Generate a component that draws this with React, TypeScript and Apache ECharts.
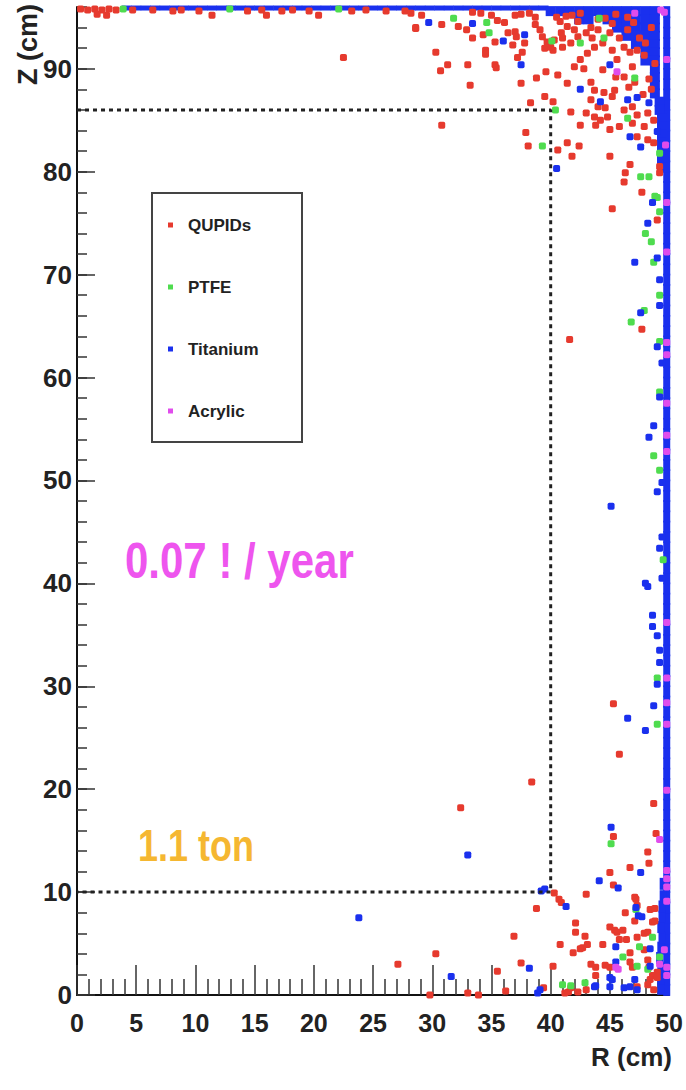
import React, { useEffect, useRef } from "react";
import * as echarts from "echarts";

const FONT = '"Liberation Sans", Arial, Helvetica, sans-serif';

const legendNames = ["QUPIDs", "PTFE", "Titanium", "Acrylic"];

// dashed fiducial box (R, Z)
const boxR = [0, 40, 40, 0];
const boxZ = [86, 86, 10, 10];

// Titanium: dense wall at the outer radius
const titaniumWall: [number, number][] = [
  [49.8, 0.5], [49.8, 1.5], [49.8, 2.5], [49.8, 3.5], [49.8, 4.5], [49.8, 5.5], [49.8, 6.5], [49.8, 7.5],
  [49.8, 8.5], [49.8, 9.5], [49.8, 10.5], [49.8, 11.5], [49.8, 12.5], [49.8, 13.5], [49.8, 14.5], [49.8, 15.5],
  [49.8, 16.5], [49.8, 17.5], [49.8, 18.5], [49.8, 19.5], [49.8, 20.5], [49.8, 21.5], [49.8, 22.5], [49.8, 23.5],
  [49.8, 24.5], [49.8, 25.5], [49.8, 26.5], [49.8, 27.5], [49.8, 28.5], [49.8, 29.5], [49.8, 30.5], [49.8, 31.5],
  [49.8, 32.5], [49.8, 33.5], [49.8, 34.5], [49.8, 35.5], [49.8, 36.5], [49.8, 37.5], [49.8, 38.5], [49.8, 39.5],
  [49.8, 40.5], [49.8, 41.5], [49.8, 42.5], [49.8, 43.5], [49.8, 44.5], [49.8, 45.5], [49.8, 46.5], [49.8, 47.5],
  [49.8, 48.5], [49.8, 49.5], [49.8, 50.5], [49.8, 51.5], [49.8, 52.5], [49.8, 53.5], [49.8, 54.5], [49.8, 55.5],
  [49.8, 56.5], [49.8, 57.5], [49.8, 58.5], [49.8, 59.5], [49.8, 60.5], [49.8, 61.5], [49.8, 62.5], [49.8, 63.5],
  [49.8, 64.5], [49.8, 65.5], [49.8, 66.5], [49.8, 67.5], [49.8, 68.5], [49.8, 69.5], [49.8, 70.5], [49.8, 71.5],
  [49.8, 72.5], [49.8, 73.5], [49.8, 74.5], [49.8, 75.5], [49.8, 76.5], [49.8, 77.5], [49.8, 78.5], [49.8, 79.5],
  [49.8, 80.5], [49.8, 81.5], [49.8, 82.5], [49.8, 83.5], [49.8, 84.5], [49.8, 85.5], [49.8, 86.5], [49.8, 87.5],
  [49.8, 88.5], [49.8, 89.5], [49.8, 90.5], [49.8, 91.5], [49.8, 92.5], [49.8, 93.5], [49.8, 94.5], [49.8, 95.5],
  [49.3, 0.6], [49.3, 1.6], [49.3, 2.6], [49.2, 3.6], [49.3, 4.6], [49.4, 5.6], [49.3, 6.6], [49.4, 7.6],
  [49.4, 8.6], [49.5, 9.6], [49.5, 10.8],
];

// Titanium: dense band along the top (R positions, at Z = 95.9)
const titaniumTopR = [
  4.2, 5.0, 5.8, 6.6, 7.4, 8.2, 9.0, 9.8, 10.6, 11.4, 12.2, 13.0, 13.8, 14.6, 15.4, 16.2, 17.0, 17.8,
  18.6, 19.4, 20.2, 21.0, 21.8, 22.6, 23.4, 24.2, 25.0, 25.8, 26.6, 27.4, 28.2, 29.0, 29.8, 30.6, 31.4,
  32.2, 33.0, 33.8, 34.6, 35.4, 36.2, 37.0, 37.8, 38.6, 39.4,
];
const titaniumTopZ = 95.9;

// Titanium: dense cluster in the upper outer corner
const titaniumCorner: [number, number][] = [
  [40.0, 95.6], [40.8, 95.6], [41.6, 95.6], [42.4, 95.6], [43.2, 95.6], [44.0, 95.6], [44.8, 95.6], [45.6, 95.6],
  [46.4, 95.6], [47.2, 95.6], [48.0, 95.6], [48.8, 95.6],
  [42.4, 94.8], [43.2, 94.8], [44.8, 94.8], [45.6, 94.8], [46.4, 94.8], [47.2, 94.8], [48.0, 94.8], [48.8, 94.8],
  [45.6, 94.0], [46.4, 94.0], [47.2, 94.0], [48.0, 94.0], [48.8, 94.0],
  [46.4, 93.2], [47.2, 93.2], [48.0, 93.2], [48.8, 93.2],
  [47.2, 92.4], [48.0, 92.4], [48.8, 92.4],
  [48.0, 91.6], [48.8, 91.6], [48.0, 90.8], [48.8, 90.8],
  [48.8, 90.0], [48.8, 89.2], [48.8, 88.4], [48.8, 87.6], [49.2, 86.8], [49.2, 86.0],
  [49.4, 85.2], [49.4, 84.4], [49.4, 83.6], [49.4, 82.8], [49.4, 82.0], [49.4, 81.2], [49.4, 80.4],
];

const qupids: [number, number][] = [
  [0.3, 95.8], [0.9, 95.7], [1.5, 95.8], [2.1, 95.7], [2.7, 95.8], [3.3, 95.7], [1.7, 95.3], [2.5, 95.2],
  [4.7, 95.7], [6.4, 95.7], [8.1, 95.6], [8.8, 95.7], [10.3, 95.6], [11.4, 95.2], [14.4, 95.6], [15.6, 95.7],
  [16.0, 95.2], [17.3, 95.6], [18.2, 95.7], [19.6, 95.6], [20.4, 95.2], [23.2, 95.6], [24.4, 95.7], [26.1, 95.6],
  [27.7, 95.6], [28.6, 94.0], [22.5, 91.1],
  [28.2, 95.4], [29.1, 95.2], [28.6, 93.9], [30.8, 94.3], [32.2, 94.1], [32.9, 93.8], [33.4, 95.5], [34.1, 95.4],
  [35.0, 95.2], [35.5, 94.7], [36.1, 94.5], [34.3, 93.3], [33.4, 93.0], [35.3, 92.6], [36.4, 93.5], [37.0, 93.6],
  [37.1, 93.1], [36.8, 92.3], [37.8, 92.5], [37.6, 91.6], [37.2, 91.1], [34.5, 91.8], [34.5, 91.4], [35.3, 90.4],
  [35.4, 90.1], [33.0, 90.4], [31.3, 90.4], [30.7, 89.8], [30.3, 91.6], [33.2, 88.4], [37.5, 88.6], [38.8, 89.1],
  [39.6, 89.7], [39.5, 87.3], [40.2, 86.8], [38.3, 86.7], [30.8, 84.5], [37.9, 83.8], [38.1, 82.5], [38.7, 94.3],
  [39.1, 93.8], [39.3, 93.1], [39.7, 92.6], [39.5, 92.0], [40.2, 91.8], [38.7, 95.0], [37.0, 95.2], [37.5, 95.3],
  [38.2, 95.4],
  [40.8, 94.6], [41.3, 95.1], [41.8, 95.2], [42.5, 95.4], [42.3, 94.6], [41.4, 94.1], [40.9, 93.5], [40.3, 92.8],
  [40.0, 92.1], [41.0, 92.1], [41.7, 92.5], [42.3, 93.1], [43.0, 93.5], [43.4, 94.0], [44.0, 94.8], [44.6, 94.9],
  [45.2, 94.4], [45.0, 93.5], [44.4, 92.5], [43.7, 92.1], [43.1, 91.5], [42.5, 90.9], [42.0, 90.2], [42.8, 90.0],
  [40.6, 89.4], [41.4, 88.6], [43.4, 88.7], [44.4, 89.9], [45.6, 90.9], [45.2, 91.8], [46.2, 92.1], [46.7, 91.6],
  [47.3, 91.8], [47.9, 91.3], [46.9, 90.2], [46.2, 89.2], [46.6, 88.2], [47.1, 88.7], [43.7, 87.9], [44.5, 87.7],
  [45.2, 87.3], [45.4, 87.9], [43.4, 87.0], [44.0, 86.3], [44.6, 86.2], [41.7, 85.8], [43.0, 85.7], [43.7, 85.3],
  [44.2, 85.0], [44.8, 85.3], [46.2, 86.0], [46.9, 86.3], [47.3, 85.5], [48.2, 85.7], [48.7, 85.0], [43.8, 84.5],
  [42.5, 84.5], [45.0, 84.1], [45.8, 84.4], [46.9, 84.7], [47.9, 84.4], [47.3, 83.4], [48.2, 83.1], [48.7, 82.8],
  [41.4, 82.8], [42.4, 82.5], [40.6, 82.1], [41.8, 81.5], [45.0, 81.5], [46.7, 80.7], [46.3, 79.9], [46.2, 79.0],
  [47.7, 78.0], [49.2, 80.5], [49.2, 79.9],
  [40.5, 95.0], [41.0, 93.0], [42.0, 93.8], [43.5, 93.0], [44.0, 93.8], [45.8, 93.0], [46.5, 93.8], [47.5, 93.0],
  [48.0, 92.5], [47.0, 94.5], [45.5, 95.3], [46.5, 95.0], [48.5, 94.0], [48.8, 90.5], [48.3, 89.0], [47.8, 87.5],
  [48.5, 88.0], [45.5, 89.2],
  [45.2, 76.4], [49.0, 75.3], [47.7, 64.7], [41.6, 63.7],
  [45.3, 28.3], [45.8, 23.4], [38.4, 20.7], [48.7, 18.6], [32.4, 18.2], [45.3, 15.4], [48.9, 15.7], [48.2, 13.9],
  [48.3, 12.8], [46.7, 12.4], [45.0, 11.9], [45.3, 10.7], [43.0, 9.8], [40.3, 9.9], [40.7, 9.3], [40.9, 9.0],
  [38.8, 8.4], [47.1, 9.5], [47.2, 9.3], [47.3, 8.7], [48.4, 8.3], [48.8, 8.4], [48.6, 7.1], [48.8, 7.2],
  [46.3, 8.0], [47.1, 7.2], [42.1, 7.0], [42.1, 6.1], [42.9, 5.7], [43.1, 4.9], [42.7, 4.6], [40.8, 4.9],
  [36.9, 5.7], [44.4, 4.9], [45.0, 6.6], [45.4, 6.3], [45.6, 6.1], [46.1, 6.3], [45.8, 5.4], [46.4, 5.4],
  [47.3, 5.6], [47.9, 6.0], [48.2, 6.1], [46.7, 4.1], [47.9, 4.4], [41.9, 4.1], [42.5, 4.5], [37.5, 3.1],
  [40.2, 2.8], [43.4, 3.0], [43.8, 2.7], [43.8, 1.9], [45.0, 2.7], [46.7, 3.2], [48.2, 3.4], [46.9, 2.7],
  [49.0, 2.2], [48.6, 1.9], [49.0, 1.7], [48.4, 1.5], [41.2, 0.2], [41.5, 0.3], [41.7, 0.7], [39.4, 0.7],
  [43.0, 0.5], [42.3, 0.3], [47.3, 0.8], [48.2, 1.0], [48.7, 0.5], [30.3, 4.0], [35.5, 2.3], [27.1, 3.0],
  [33.0, 0.2], [33.9, 0.0], [29.8, 0.0], [36.2, 0.4], [44.6, 2.9], [48.3, 2.7],
];

const ptfe: [number, number][] = [
  [3.9, 95.8], [12.9, 95.8], [22.1, 95.8], [31.8, 94.9], [34.6, 94.5], [34.8, 93.5], [40.1, 92.7], [40.4, 86.0],
  [39.3, 82.5], [44.1, 94.9], [44.5, 93.0], [42.5, 92.5], [47.1, 89.1], [46.5, 85.2], [49.2, 81.8], [47.6, 79.5],
  [48.3, 79.5], [49.0, 77.5], [48.8, 77.6], [49.2, 76.1], [48.0, 74.0], [48.5, 73.2], [48.7, 71.2], [49.2, 68.0],
  [47.9, 66.5], [46.8, 65.4], [49.2, 63.5], [49.2, 58.6], [48.7, 52.4], [49.2, 51.0], [49.5, 42.3], [49.0, 30.8],
  [49.0, 26.3], [45.1, 14.7], [47.2, 8.3], [48.6, 5.6], [47.5, 4.7], [46.1, 3.7], [49.2, 3.7], [47.3, 2.8],
  [48.2, 2.5], [42.9, 1.2], [41.0, 1.0], [41.7, 0.9],
];

const titanium: [number, number][] = [
  [29.7, 94.5], [33.4, 94.4], [36.0, 92.7], [37.8, 93.3], [37.5, 90.4], [40.5, 80.3], [42.5, 88.0], [44.2, 86.8],
  [45.0, 90.4], [46.5, 87.0], [47.3, 87.2], [48.3, 86.7], [46.7, 83.4], [47.6, 82.4], [49.0, 83.9], [48.6, 77.0],
  [48.2, 75.0], [47.1, 71.2], [49.0, 71.6], [49.2, 69.5], [49.2, 67.0], [47.6, 66.3], [49.0, 63.0], [49.4, 61.4],
  [49.2, 58.1], [48.7, 55.3], [48.3, 54.2], [49.4, 49.8], [49.0, 48.9], [45.1, 47.5], [49.4, 44.5], [49.2, 43.4],
  [49.4, 40.5], [48.0, 40.0], [48.2, 39.7], [48.6, 36.9], [48.6, 35.8], [49.0, 34.9], [49.2, 33.5], [49.2, 32.3],
  [49.0, 30.2], [48.7, 28.1], [46.5, 26.9], [48.0, 25.7], [45.1, 16.3], [47.6, 11.9], [44.1, 11.1], [45.7, 10.4],
  [39.2, 10.1], [39.5, 10.3], [41.3, 8.6], [47.2, 8.5], [47.7, 7.6], [47.4, 7.7], [45.5, 4.7], [48.4, 4.5],
  [45.5, 3.2], [48.4, 2.8], [38.2, 2.6], [45.0, 1.7], [45.2, 1.5], [47.1, 1.5], [43.7, 0.8], [45.0, 0.8],
  [43.8, 0.9], [38.9, 0.2], [39.1, 0.5], [46.2, 0.7], [46.7, 0.8], [47.3, 0.5], [31.6, 1.8], [33.0, 13.6],
  [23.8, 7.5],
];

const acrylic: [number, number][] = [
  [47.1, 95.4], [49.6, 95.5], [49.3, 95.7], [49.8, 90.9], [45.6, 89.7], [49.7, 82.6], [49.8, 77.0], [49.8, 72.2],
  [49.8, 63.4], [49.8, 62.2], [49.8, 57.5], [49.8, 54.4], [49.8, 52.8], [49.8, 36.2], [49.8, 30.8], [49.8, 28.4],
  [49.8, 26.3], [49.8, 19.9], [49.2, 15.1], [49.8, 12.1], [49.8, 11.3], [49.8, 10.5], [49.8, 9.1], [49.6, 4.4],
  [49.2, 3.0], [49.8, 2.7], [49.8, 1.9], [45.5, 2.7], [45.7, 2.5],
];

const RED = "#e63a2e";
const GREEN = "#4fdc4f";
const BLUE = "#1a30ee";
const MAGENTA = "#e04cec";

export default function App() {
  const ref = useRef<HTMLDivElement>(null);

  useEffect(() => {
    if (!ref.current) return;
    const chart = echarts.init(ref.current, null, { renderer: "svg" });

    const dotSeries = (name: string, data: [number, number][], color: string) => ({
      type: "scatter",
      name,
      data,
      symbol: "roundRect",
      symbolSize: 7,
      itemStyle: { color, opacity: 1 },
      silent: true,
    });

    const blockSeries = (data: [number, number][], size: number | number[]) => ({
      type: "scatter",
      name: "Titanium",
      data,
      symbol: "rect",
      symbolSize: size,
      itemStyle: { color: BLUE, opacity: 1 },
      silent: true,
    });

    const option: any = {
      animation: false,
      backgroundColor: "#ffffff",
      grid: { left: 77, top: 7, right: 14, bottom: 95 },
      legend: {
        data: legendNames,
        orient: "vertical",
        left: 168,
        top: 215,
        itemWidth: 5,
        itemHeight: 5,
        itemGap: 42,
        icon: "rect",
        padding: 0,
        selectedMode: false,
        textStyle: {
          fontSize: 17,
          fontWeight: "bold",
          fontFamily: FONT,
          color: "#222",
          lineHeight: 20,
          padding: [0, 0, 0, 10],
        },
      },
      xAxis: {
        type: "value",
        min: 0,
        max: 50,
        interval: 5,
        axisLine: { show: true, onZero: false, lineStyle: { color: "#111", width: 2 } },
        axisTick: { show: true, inside: true, length: 30, lineStyle: { color: "#333", width: 1.5 } },
        minorTick: { show: true, splitNumber: 5, length: 16, lineStyle: { color: "#333", width: 1.5 } },
        splitLine: { show: false },
        axisLabel: { fontSize: 25, fontWeight: "bold", fontFamily: FONT, color: "#222", margin: 15 },
      },
      yAxis: [
        {
          type: "value",
          position: "left",
          min: 0,
          max: 96,
          interval: 2,
          axisLine: { show: true, onZero: false, lineStyle: { color: "#111", width: 2 } },
          axisTick: { show: true, inside: true, length: 10, lineStyle: { color: "#333", width: 1.5 } },
          axisLabel: { show: false },
          splitLine: { show: false },
        },
        {
          type: "value",
          position: "left",
          offset: 0,
          min: 0,
          max: 96,
          interval: 10,
          axisLine: { show: false },
          axisTick: { show: true, inside: true, length: 18, lineStyle: { color: "#333", width: 1.5 } },
          axisLabel: {
            fontSize: 26,
            fontWeight: "bold",
            fontFamily: FONT,
            color: "#222",
            margin: 5,
            showMaxLabel: false,
            formatter: (v: number) => (v % 10 === 0 ? String(v) : ""),
          },
          splitLine: { show: false },
        },
      ],
      series: [
        blockSeries(titaniumWall, [7, 12]),
        blockSeries(titaniumTopR.map((r) => [r, titaniumTopZ]) as [number, number][], [10, 5]),
        blockSeries(titaniumCorner, 10),
        dotSeries("QUPIDs", qupids, RED),
        dotSeries("PTFE", ptfe, GREEN),
        dotSeries("Titanium", titanium, BLUE),
        dotSeries("Acrylic", acrylic, MAGENTA),
        {
          type: "line",
          name: "box",
          data: boxR.map((r, i) => [r, boxZ[i]]),
          showSymbol: false,
          symbol: "none",
          silent: true,
          lineStyle: { color: "#222", width: 3, type: [4, 4] },
          z: 3,
        },
      ],
      graphic: [
        {
          type: "rect",
          shape: { x: 152, y: 193, width: 150, height: 249 },
          style: { fill: "none", stroke: "#444", lineWidth: 2 },
          silent: true,
        },
        {
          type: "text",
          x: 125,
          y: 561,
          scaleY: 1.2,
          style: {
            text: "0.07 ! / year",
            fill: "#ee55ee",
            font: `bold 42px ${FONT}`,
            align: "left",
            verticalAlign: "middle",
          },
          silent: true,
        },
        {
          type: "text",
          x: 138,
          y: 846,
          scaleY: 1.25,
          style: {
            text: "1.1 ton",
            fill: "#f5b731",
            font: `bold 36px ${FONT}`,
            align: "left",
            verticalAlign: "middle",
          },
          silent: true,
        },
        {
          type: "text",
          x: 28,
          y: 4,
          rotation: Math.PI / 2,
          style: {
            text: "Z (cm)",
            fill: "#222",
            font: `bold 27px ${FONT}`,
            align: "right",
            verticalAlign: "middle",
          },
          silent: true,
        },
        {
          type: "text",
          x: 672,
          y: 1057,
          style: {
            text: "R (cm)",
            fill: "#222",
            font: `bold 26px ${FONT}`,
            align: "right",
            verticalAlign: "middle",
          },
          silent: true,
        },
      ],
    };

    chart.setOption(option);
    return () => chart.dispose();
  }, []);

  return (
    <div
      ref={ref}
      style={{ position: "fixed", left: 0, top: 0, width: 686, height: 1090, background: "#fff" }}
    />
  );
}
